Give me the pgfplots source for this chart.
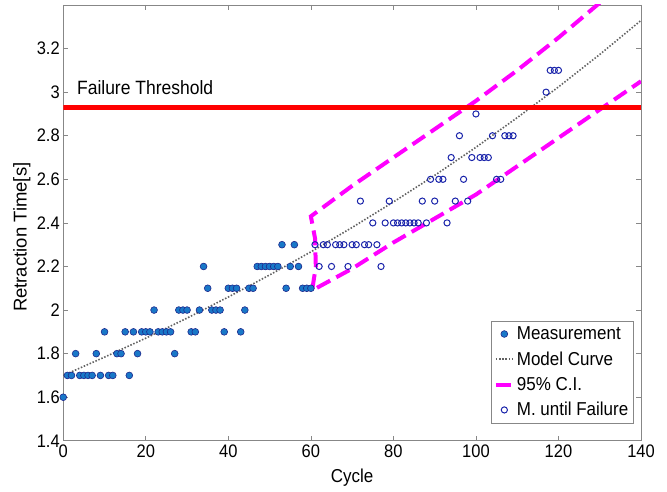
\documentclass[border=0pt]{standalone}
\usepackage{fontspec}
\setmainfont{Liberation Sans}
\usepackage{pgfplots}
\pgfplotsset{compat=1.18}
\definecolor{mfill}{RGB}{25,120,200}
\definecolor{medge}{RGB}{30,40,140}
\definecolor{oblue}{RGB}{25,35,170}
\definecolor{axgray}{RGB}{135,135,135}
\definecolor{mag}{RGB}{255,0,255}
\begin{document}
\begin{tikzpicture}
\begin{axis}[
  scale only axis, width=578pt, height=436pt,
  xmin=0, xmax=140, ymin=1.4, ymax=3.4,
  xtick={0,20,40,60,80,100,120,140},
  ytick={1.4,1.6,1.8,2,2.2,2.4,2.6,2.8,3,3.2},
  tick align=inside, major tick length=5pt,
  axis line style={axgray, line width=0.8pt},
  tick style={axgray, line width=0.7pt},
  /pgf/number format/assume math mode=true,
  tick label style={font=\fontsize{16.5}{18}\selectfont, black, yscale=1.1},
  xlabel={Cycle}, ylabel={Retraction Time[s]},
  xlabel style={font=\fontsize{17}{19}\selectfont, yscale=1.1, at={(axis description cs:0.5,-0.0856)}, anchor=center},
  ylabel style={font=\fontsize{18.5}{20}\selectfont, at={(axis description cs:-0.0715,0.467)}, anchor=center},
  legend style={at={(0.987,0.041)}, anchor=south east, draw=axgray,
    font=\fontsize{17}{19}\selectfont, row sep=6pt, inner sep=3pt,
    nodes={yscale=1.1}},
  legend cell align=left,
]
% Measurements (cycles 0-60)
\addplot[only marks, mark=*, mark size=3.4pt, mark options={fill=mfill, draw=medge, line width=0.6pt}] coordinates {
(0,1.6)(1,1.7)(2,1.7)(3,1.8)(4,1.7)(5,1.7)(6,1.7)(7,1.7)(8,1.8)(9,1.7)
(10,1.9)(11,1.7)(12,1.7)(13,1.8)(14,1.8)(15,1.9)(16,1.7)(17,1.9)(18,1.8)(19,1.9)
(20,1.9)(21,1.9)(22,2.0)(23,1.9)(24,1.9)(25,1.9)(26,1.9)(27,1.8)(28,2.0)(29,2.0)
(30,2.0)(31,1.9)(32,1.9)(33,2.0)(34,2.2)(35,2.1)(36,2.0)(37,2.0)(38,2.0)(39,1.9)
(40,2.1)(41,2.1)(42,2.1)(43,1.9)(44,2.0)(45,2.1)(46,2.1)(47,2.2)(48,2.2)(49,2.2)
(50,2.2)(51,2.2)(52,2.2)(53,2.3)(54,2.1)(55,2.2)(56,2.3)(57,2.2)(58,2.1)(59,2.1)
(60,2.1)
};
\addlegendentry{Measurement}
% Model curve
\addplot[color=black!62, line width=1.6pt, dash pattern=on 1.5pt off 1.7pt] coordinates {
(0,1.700)(10,1.784)(20,1.871)(30,1.963)(40,2.060)(50,2.161)(60,2.267)(70,2.379)
(80,2.496)(90,2.618)(100,2.747)(110,2.883)(120,3.024)(130,3.173)(140,3.329)
};
\addlegendentry{Model Curve}
% 95% CI
\addplot[color=mag, line width=4pt, dash pattern=on 15pt off 7pt] coordinates {
(130,3.41)(120,3.25)(110,3.10)(100,2.96)(90,2.83)(80,2.70)(70,2.57)(60,2.43)
(61,2.33)(61.2,2.2)(60.3,2.09)
(70,2.19)(80,2.31)(90,2.42)(100,2.53)(110,2.66)(120,2.79)(130,2.92)(140,3.05)
};
\addlegendentry{95\% C.I.}
% Measurements until failure
\addplot[only marks, mark=o, mark size=3.1pt, mark options={draw=oblue, line width=1pt}] coordinates {
(61,2.3)(62,2.2)(63,2.3)(64,2.3)(65,2.2)(66,2.3)(67,2.3)(68,2.3)(69,2.2)(70,2.3)
(71,2.3)(72,2.5)(73,2.3)(74,2.3)(75,2.4)(76,2.3)(77,2.2)(78,2.4)(79,2.5)(80,2.4)
(81,2.4)(82,2.4)(83,2.4)(84,2.4)(85,2.4)(86,2.4)(87,2.5)(88,2.4)(89,2.6)(90,2.5)
(91,2.6)(92,2.6)(93,2.4)(94,2.7)(95,2.5)(96,2.8)(97,2.6)(98,2.5)(99,2.7)(100,2.9)
(101,2.7)(102,2.7)(103,2.7)(104,2.8)(105,2.6)(106,2.6)(107,2.8)(108,2.8)(109,2.8)
(117,3.0)(118,3.1)(119,3.1)(120,3.1)
};
\addlegendentry{M. until Failure}
% Failure threshold
\addplot[red, line width=5pt, forget plot] coordinates {(0,2.93)(140,2.93)};
\node[anchor=west, font=\fontsize{17.5}{19}\selectfont, yscale=1.1, inner sep=0pt] at (axis cs:3.3,3.02) {Failure Threshold};
\end{axis}
\path ([xshift=-63.3pt,yshift=-50.3pt]current axis.south west) rectangle ([xshift=26pt,yshift=5pt]current axis.north east);
\end{tikzpicture}
\end{document}
